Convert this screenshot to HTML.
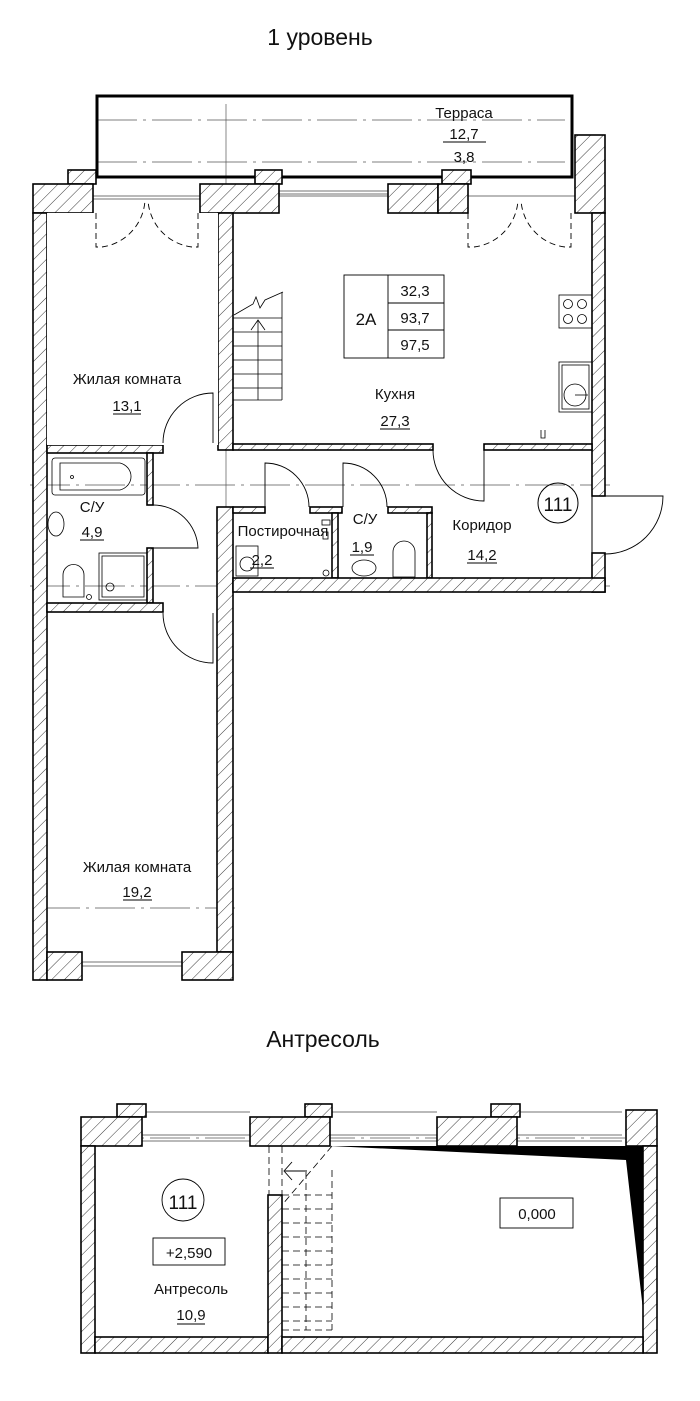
<!DOCTYPE html>
<html><head><meta charset="utf-8"><style>
html,body{margin:0;padding:0;background:#fff;}
svg{display:block;}
text{font-family:"Liberation Sans Narrow","Liberation Sans",sans-serif;fill:#111;}
</style></head><body>
<svg width="700" height="1401" viewBox="0 0 700 1401" xmlns="http://www.w3.org/2000/svg">
<defs>
<pattern id="h" patternUnits="userSpaceOnUse" width="9" height="9" patternTransform="rotate(45)">
<rect width="9" height="9" fill="#fff"/><line x1="0" y1="0" x2="0" y2="9" stroke="#222" stroke-width="0.9"/>
</pattern>
</defs>
<text x="320" y="45" font-size="23" text-anchor="middle" style="font-family:'Liberation Sans',sans-serif">1 уровень</text>
<text x="323" y="1047" font-size="23" text-anchor="middle" style="font-family:'Liberation Sans',sans-serif">Антресоль</text>

<!-- thin axis lines -->
<g stroke="#555" stroke-width="0.7" fill="none" stroke-dasharray="40,6,3,6">
<line x1="97" y1="120" x2="565" y2="120"/><line x1="97" y1="162" x2="565" y2="162"/>
<line x1="30" y1="485" x2="610" y2="485"/><line x1="30" y1="586" x2="610" y2="586"/>
<line x1="40" y1="908" x2="235" y2="908"/>
<line x1="95" y1="1138" x2="625" y2="1138"/>
</g>
<line x1="226" y1="104" x2="226" y2="600" stroke="#555" stroke-width="0.7"/>
<g stroke="#444" stroke-width="0.7">
<line x1="93" y1="196" x2="595" y2="196"/><line x1="93" y1="199" x2="200" y2="199"/>
<line x1="279" y1="191" x2="388" y2="191"/><line x1="279" y1="194" x2="388" y2="194"/>
<line x1="82" y1="962" x2="182" y2="962"/><line x1="82" y1="966" x2="182" y2="966"/>
<line x1="142" y1="1135" x2="250" y2="1135"/><line x1="142" y1="1141" x2="250" y2="1141"/>
<line x1="330" y1="1135" x2="437" y2="1135"/><line x1="330" y1="1141" x2="437" y2="1141"/>
<line x1="517" y1="1135" x2="622" y2="1135"/><line x1="517" y1="1141" x2="622" y2="1141"/>
<line x1="142" y1="1112" x2="250" y2="1112"/><line x1="330" y1="1112" x2="437" y2="1112"/><line x1="517" y1="1112" x2="622" y2="1112"/>
</g>

<!-- terrace -->
<rect x="97" y="96" width="475" height="81" fill="none" stroke="#000" stroke-width="3"/>
<text x="464" y="118" font-size="15" text-anchor="middle">Терраса</text>
<text x="464" y="139" font-size="15" text-anchor="middle">12,7</text>
<line x1="443" y1="142" x2="486" y2="142" stroke="#000" stroke-width="1"/>
<text x="464" y="162" font-size="15" text-anchor="middle">3,8</text>

<!-- walls level 1 -->
<g fill="url(#h)" stroke="#000" stroke-width="1.6">
<rect x="68" y="170" width="28" height="14"/>
<rect x="255" y="170" width="27" height="14"/>
<rect x="442" y="170" width="29" height="14"/>
<rect x="33" y="184" width="60" height="29"/>
<rect x="200" y="184" width="79" height="29"/>
<rect x="388" y="184" width="50" height="29"/>
<rect x="438" y="184" width="30" height="29"/>
<rect x="575" y="135" width="30" height="78"/>
<rect x="33" y="213" width="14" height="767"/>
<rect x="218" y="213" width="15" height="237"/>
<rect x="592" y="213" width="13" height="283"/>
<rect x="592" y="553" width="13" height="39"/>
<rect x="233" y="444" width="200" height="6"/>
<rect x="484" y="444" width="108" height="6"/>
<rect x="47" y="445" width="116" height="8"/>
<rect x="147" y="453" width="6" height="52"/>
<rect x="147" y="548" width="6" height="55"/>
<rect x="47" y="603" width="116" height="9"/>
<rect x="217" y="507" width="16" height="445"/>
<rect x="233" y="507" width="32" height="6"/>
<rect x="310" y="507" width="32" height="6"/>
<rect x="332" y="513" width="6" height="65"/>
<rect x="388" y="507" width="44" height="6"/>
<rect x="427" y="513" width="5" height="65"/>
<rect x="233" y="578" width="372" height="14"/>
<rect x="47" y="952" width="35" height="28"/>
<rect x="182" y="952" width="51" height="28"/>
</g>
<rect x="47" y="213" width="171" height="232" fill="#fff"/>
<line x1="592" y1="496" x2="592" y2="553" stroke="#000" stroke-width="1"/>

<!-- doors -->
<g fill="none" stroke="#000" stroke-width="0.9">
<path d="M213 443 V393 A50 50 0 0 0 163 443"/>
<path d="M153 548 H198 A45 45 0 0 0 153 505"/>
<path d="M213 613 V663 A50 50 0 0 1 163 613"/>
<path d="M265 507 V463 A44 44 0 0 1 309 507"/>
<path d="M343 507 V463 A44 44 0 0 1 387 507"/>
<path d="M484 450 V501 A51 51 0 0 1 433 450"/>
<path d="M605 496 H663 A58 58 0 0 1 605 554"/>
</g>
<g fill="none" stroke="#000" stroke-width="0.9" stroke-dasharray="6,4">
<path d="M96 213 V247 H102 A50 50 0 0 0 145 200"/>
<path d="M198 213 V247 H192 A50 50 0 0 1 148 200"/>
<path d="M468 213 V247 H474 A50 50 0 0 0 518 200"/>
<path d="M571 213 V247 H565 A50 50 0 0 1 521 200"/>
</g>

<!-- stair level1 -->
<g stroke="#000" stroke-width="0.8" fill="none">
<line x1="233" y1="318" x2="282" y2="318"/><line x1="233" y1="332" x2="282" y2="332"/>
<line x1="233" y1="346" x2="282" y2="346"/><line x1="233" y1="360" x2="282" y2="360"/>
<line x1="233" y1="374" x2="282" y2="374"/><line x1="233" y1="388" x2="282" y2="388"/>
<line x1="233" y1="400" x2="282" y2="400"/>
<line x1="282" y1="292" x2="282" y2="400"/>
<line x1="258" y1="400" x2="258" y2="320"/><path d="M251 330 L258 320 L265 330"/>
<path d="M234 315 L253 304 L256 297 L260 308 L265 300 L283 292"/>
</g>

<!-- 2A box -->
<g stroke="#000" stroke-width="0.9" fill="none">
<rect x="344" y="275" width="100" height="83"/>
<line x1="388" y1="275" x2="388" y2="358"/>
<line x1="388" y1="303" x2="444" y2="303"/><line x1="388" y1="330" x2="444" y2="330"/>
</g>
<text x="366" y="325" font-size="17" text-anchor="middle">2А</text>
<text x="415" y="296" font-size="15" text-anchor="middle">32,3</text>
<text x="415" y="323" font-size="15" text-anchor="middle">93,7</text>
<text x="415" y="350" font-size="15" text-anchor="middle">97,5</text>

<!-- kitchen fixtures -->
<g stroke="#000" stroke-width="0.8" fill="none">
<rect x="559" y="295" width="33" height="33"/>
<circle cx="568" cy="304" r="4.5"/><circle cx="582" cy="304" r="4.5"/>
<circle cx="568" cy="319" r="4.5"/><circle cx="582" cy="319" r="4.5"/>
<rect x="559" y="362" width="33" height="50"/><rect x="562" y="365" width="27" height="44"/>
<circle cx="575" cy="395" r="11"/><line x1="575" y1="395" x2="588" y2="395"/>
<path d="M541 430 v8 h4 v-8"/>
<!-- bath -->
<rect x="52" y="458" width="93" height="37" rx="3"/>
<path d="M60 463 H120 A15 14 0 0 1 120 490 H60 Z"/>
<circle cx="72" cy="477" r="1.5"/>
<ellipse cx="56" cy="524" rx="8" ry="12"/>
<rect x="99" y="553" width="48" height="47"/><rect x="102" y="556" width="42" height="41"/>
<circle cx="110" cy="587" r="4"/>
<path d="M63 597 V575 A10 10 0 0 1 84 575 V597 Z"/>
<circle cx="89" cy="597" r="2.5"/>
<rect x="236" y="546" width="22" height="30"/><circle cx="247" cy="564" r="7"/>
<circle cx="326" cy="573" r="3"/>
<rect x="322" y="520" width="8" height="5"/><rect x="323" y="532" width="5" height="7"/>
<ellipse cx="364" cy="568" rx="12" ry="8"/>
<path d="M393 577 V552 A11 11 0 0 1 415 552 V577 Z"/>
</g>

<!-- labels level 1 -->
<g font-size="15" text-anchor="middle">
<text x="127" y="384">Жилая комната</text>
<text x="127" y="411">13,1</text>
<text x="395" y="399">Кухня</text>
<text x="395" y="426">27,3</text>
<text x="92" y="512">С/У</text>
<text x="92" y="537">4,9</text>
<text x="283" y="536">Постирочная</text>
<text x="262" y="565">2,2</text>
<text x="365" y="524">С/У</text>
<text x="362" y="552">1,9</text>
<text x="482" y="530">Коридор</text>
<text x="482" y="560">14,2</text>
<text x="137" y="872">Жилая комната</text>
<text x="137" y="897">19,2</text>
</g>
<g stroke="#000" stroke-width="0.9">
<line x1="113" y1="414" x2="141" y2="414"/><line x1="380" y1="429" x2="410" y2="429"/>
<line x1="80" y1="540" x2="104" y2="540"/><line x1="250" y1="568" x2="274" y2="568"/>
<line x1="350" y1="555" x2="374" y2="555"/><line x1="467" y1="563" x2="497" y2="563"/>
<line x1="123" y1="900" x2="152" y2="900"/>
</g>
<circle cx="558" cy="503" r="20" fill="none" stroke="#000" stroke-width="1"/>
<text x="558" y="511" font-size="19" text-anchor="middle">111</text>

<!-- Antresol -->
<g fill="url(#h)" stroke="#000" stroke-width="1.6">
<rect x="117" y="1104" width="29" height="13"/>
<rect x="305" y="1104" width="27" height="13"/>
<rect x="491" y="1104" width="29" height="13"/>
<rect x="81" y="1117" width="61" height="29"/>
<rect x="250" y="1117" width="80" height="29"/>
<rect x="437" y="1117" width="80" height="29"/>
<rect x="626" y="1110" width="31" height="36"/>
<rect x="81" y="1146" width="14" height="207"/>
<rect x="643" y="1146" width="14" height="207"/>
<rect x="95" y="1337" width="173" height="16"/>
<rect x="268" y="1195" width="14" height="158"/>
<rect x="282" y="1337" width="361" height="16"/>
</g>
<polygon points="330,1146 643,1146 643,1310 626,1160" fill="#000"/>
<g stroke="#000" stroke-width="0.8" fill="none" stroke-dasharray="7,4">
<line x1="269" y1="1146" x2="269" y2="1195"/>
<line x1="282" y1="1146" x2="282" y2="1195"/>
<line x1="332" y1="1146" x2="282" y2="1205"/>
<line x1="332" y1="1170" x2="332" y2="1330"/>
<line x1="306" y1="1172" x2="306" y2="1330"/>
<line x1="282" y1="1195" x2="332" y2="1195"/><line x1="282" y1="1209" x2="332" y2="1209"/>
<line x1="282" y1="1223" x2="332" y2="1223"/><line x1="282" y1="1237" x2="332" y2="1237"/>
<line x1="282" y1="1251" x2="332" y2="1251"/><line x1="282" y1="1265" x2="332" y2="1265"/>
<line x1="282" y1="1279" x2="332" y2="1279"/><line x1="282" y1="1293" x2="332" y2="1293"/>
<line x1="282" y1="1307" x2="332" y2="1307"/><line x1="282" y1="1321" x2="332" y2="1321"/>
<line x1="282" y1="1330" x2="332" y2="1330"/>
</g>
<g stroke="#000" stroke-width="0.9" fill="none">
<line x1="285" y1="1171" x2="307" y2="1171"/><path d="M292 1162 L284 1171 L292 1180"/>
<circle cx="183" cy="1200" r="21"/>
<rect x="153" y="1238" width="72" height="27"/>
<rect x="500" y="1198" width="73" height="30"/>
<line x1="177" y1="1324" x2="205" y2="1324"/>
</g>
<text x="183" y="1209" font-size="19" text-anchor="middle">111</text>
<text x="189" y="1258" font-size="15" text-anchor="middle">+2,590</text>
<text x="537" y="1219" font-size="15" text-anchor="middle">0,000</text>
<text x="191" y="1294" font-size="15" text-anchor="middle">Антресоль</text>
<text x="191" y="1320" font-size="15" text-anchor="middle">10,9</text>
</svg>
</body></html>
